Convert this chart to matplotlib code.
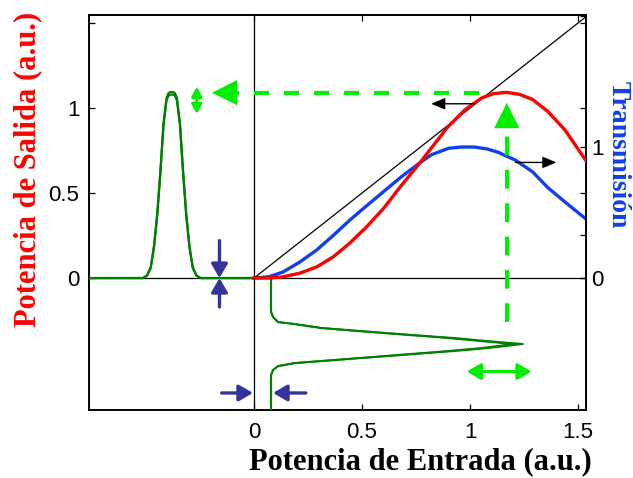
import numpy as np
import matplotlib.pyplot as plt

# potencia de salida (eje izq) vs potencia de entrada
x_red = [0, 0.06, 0.13, 0.213, 0.29, 0.366, 0.444, 0.52, 0.60, 0.676, 0.76, 0.824, 0.898,
         0.977, 1.055, 1.11, 1.17, 1.23, 1.29, 1.36, 1.44, 1.537]
y_red = [0, 0.0, 0.006, 0.029, 0.065, 0.124, 0.206, 0.30, 0.41, 0.535, 0.665, 0.77, 0.89,
         0.99, 1.06, 1.085, 1.092, 1.08, 1.05, 0.98, 0.87, 0.69]

# transmision (eje der)
x_blue = [0, 0.07, 0.134, 0.21, 0.29, 0.37, 0.444, 0.52, 0.60, 0.68, 0.76, 0.82, 0.90,
          0.96, 1.02, 1.08, 1.13, 1.21, 1.29, 1.36, 1.44, 1.537]
t_blue = [0, 0.01, 0.046, 0.12, 0.214, 0.33, 0.443, 0.55, 0.66, 0.77, 0.87, 0.94, 0.99,
          1.0, 1.0, 0.985, 0.96, 0.90, 0.81, 0.69, 0.58, 0.45]

# pulso de salida (tiempo en x, potencia en y)
out_t = [-0.764, -0.514, -0.495, -0.478, -0.463, -0.448, -0.434, -0.419, -0.405, -0.395,
         -0.381, -0.367, -0.357, -0.343, -0.328, -0.314, -0.299, -0.284, -0.267, -0.248, 0]
out_p = [0, 0, 0.015, 0.065, 0.19, 0.38, 0.62, 0.91, 1.06, 1.09,
         1.095, 1.09, 1.06, 0.91, 0.62, 0.38, 0.19, 0.065, 0.015, 0, 0]
out_p2 = [0, 0, 0.015, 0.06, 0.18, 0.37, 0.61, 0.90, 1.045, 1.075,
          1.08, 1.075, 1.045, 0.90, 0.61, 0.37, 0.18, 0.06, 0.015, 0, 0]

# pulso de entrada (potencia en x, tiempo en y)
in_x = [0.079, 0.079, 0.088, 0.111, 0.19, 0.315, 0.62, 0.93, 1.083, 1.245,
        1.083, 0.93, 0.62, 0.315, 0.19, 0.111, 0.088, 0.079, 0.079]
in_x2 = [0.079, 0.079, 0.088, 0.111, 0.19, 0.31, 0.60, 0.90, 1.05, 1.20,
         1.05, 0.90, 0.60, 0.31, 0.19, 0.111, 0.088, 0.079, 0.079]
in_y = [0, -0.20, -0.229, -0.259, -0.271, -0.294, -0.324, -0.353, -0.371, -0.388,
        -0.412, -0.429, -0.459, -0.488, -0.50, -0.518, -0.541, -0.571, -0.776]

diag = [0, 1.6]

x_ticks = [0, 0.5, 1, 1.5]
x_labels = ['0', '0.5', '1', '1.5']
y_ticks = [0, 0.5, 1, 1.5]
y_labels = ['0', '0.5', '1', '']
t_ticks = [0, 0.33, 1, 2]
t_labels = ['0', '', '1', '']

RED = '#ff0000'
BLUE = '#1040e8'
LIME = '#00ee00'
DKGREEN = '#008000'
NAVY = '#333399'

fig = plt.figure(figsize=(6.33, 4.78), dpi=100)
ax = fig.add_axes([0.1406, 0.1423, 0.7852, 0.8263])
ax2 = ax.twinx()
ax.set_zorder(ax2.get_zorder() + 1)
ax.patch.set_visible(False)

ax.set_xlim(-0.764, 1.537)
ax.set_ylim(-0.776, 1.547)
ax2.set_ylim(-0.776 * 170 / 131, 1.547 * 170 / 131)

# ejes cero
ax.axhline(0, color='k', lw=0.9, zorder=1)
ax.axvline(0, color='k', lw=0.9, zorder=1)
ax.plot(diag, diag, color='k', lw=0.9, zorder=2)

ax2.plot(x_blue, t_blue, color=BLUE, lw=2.4)
ax.plot(x_red, y_red, color=RED, lw=2.4, zorder=4)

ax.plot(out_t, out_p, color=DKGREEN, lw=1.6, zorder=3)
ax.plot(out_t, out_p2, color=DKGREEN, lw=1.6, zorder=3)
ax.plot(in_x, in_y, color=DKGREEN, lw=1.4, zorder=3)
ax.plot(in_x2, in_y, color=DKGREEN, lw=1.4, zorder=3)

# flechas verdes discontinuas
ax.plot([1.04, -0.12], [1.09, 1.09], color=LIME, lw=3, ls=(0, (3.6, 3.6)), zorder=5)
ax.annotate('', xy=(-0.195, 1.09), xytext=(-0.10, 1.09),
            arrowprops=dict(arrowstyle='-|>,head_length=0.9,head_width=0.45', color=LIME,
                            lw=0.1, shrinkA=0, shrinkB=0, mutation_scale=20), zorder=5)
ax.plot([1.17, 1.17], [-0.26, 0.95], color=LIME, lw=3, ls=(0, (4.5, 3.5)), zorder=5)
ax.annotate('', xy=(1.17, 1.03), xytext=(1.17, 0.90),
            arrowprops=dict(arrowstyle='-|>,head_length=0.9,head_width=0.45', color=LIME,
                            lw=0.1, shrinkA=0, shrinkB=0, mutation_scale=20), zorder=5)
ax.annotate('', xy=(-0.265, 1.125), xytext=(-0.265, 0.965),
            arrowprops=dict(arrowstyle='<|-|>,head_length=0.55,head_width=0.3', color=LIME,
                            lw=2.2, shrinkA=0, shrinkB=0, mutation_scale=10), zorder=5)
ax.annotate('', xy=(0.985, -0.55), xytext=(1.285, -0.55),
            arrowprops=dict(arrowstyle='<|-|>,head_length=0.6,head_width=0.35', color=LIME,
                            lw=2.2, shrinkA=0, shrinkB=0, mutation_scale=14), zorder=5)

# flechas azules
nav = dict(arrowstyle='-|>,head_length=0.6,head_width=0.35', color=NAVY, lw=2.4,
           shrinkA=0, shrinkB=0, mutation_scale=14)
ax.annotate('', xy=(-0.16, 0.0), xytext=(-0.16, 0.22), arrowprops=nav, zorder=6)
ax.annotate('', xy=(-0.16, 0.0), xytext=(-0.16, -0.17), arrowprops=nav, zorder=6)
ax.annotate('', xy=(-0.005, -0.676), xytext=(-0.15, -0.676), arrowprops=nav, zorder=6)
ax.annotate('', xy=(0.088, -0.676), xytext=(0.24, -0.676), arrowprops=nav, zorder=6)

# flechas negras
blk = dict(arrowstyle='-|>,head_length=0.6,head_width=0.25', color='k', lw=1.0,
           shrinkA=0, shrinkB=0, mutation_scale=14)
ax.annotate('', xy=(0.82, 1.025), xytext=(1.02, 1.025), arrowprops=blk, zorder=6)
ax.annotate('', xy=(1.40, 0.68), xytext=(1.21, 0.68), arrowprops=blk, zorder=6)

tick_font = dict(family='Liberation Sans', size=16)
ax.set_xticks(x_ticks)
ax.set_xticklabels(x_labels, **tick_font)
ax.set_yticks(y_ticks)
ax.set_yticklabels(y_labels, **tick_font)
ax2.set_yticks(t_ticks)
ax2.set_yticklabels(t_labels, **tick_font)
ax.tick_params(axis='both', direction='in', length=4, width=0.9, top=True, right=True, pad=7)
ax.tick_params(axis='x', pad=9)
ax2.tick_params(axis='y', direction='in', length=4, width=0.9, pad=4)
for a in (ax, ax2):
    for s in a.spines.values():
        s.set_linewidth(1.2)

lab_font = dict(family='Liberation Serif', weight='bold', size=22)
ax.set_xlabel('Potencia de Entrada (a.u.)', **lab_font)
ax.xaxis.label.set_va('center')
ax.xaxis.set_label_coords(0.666, -0.132)
ax.set_ylabel('Potencia de Salida (a.u.)', color=RED, **lab_font)
ax.yaxis.label.set_va('center')
ax.yaxis.set_label_coords(-0.123, 0.608)
ax2.set_ylabel('Transmisión', color=BLUE, rotation=-90, family='Liberation Serif',
               weight='bold', size=20)
ax2.yaxis.label.set_va('center')
ax2.yaxis.set_label_coords(1.064, 0.646)

fig.savefig('out.png', dpi=100)
